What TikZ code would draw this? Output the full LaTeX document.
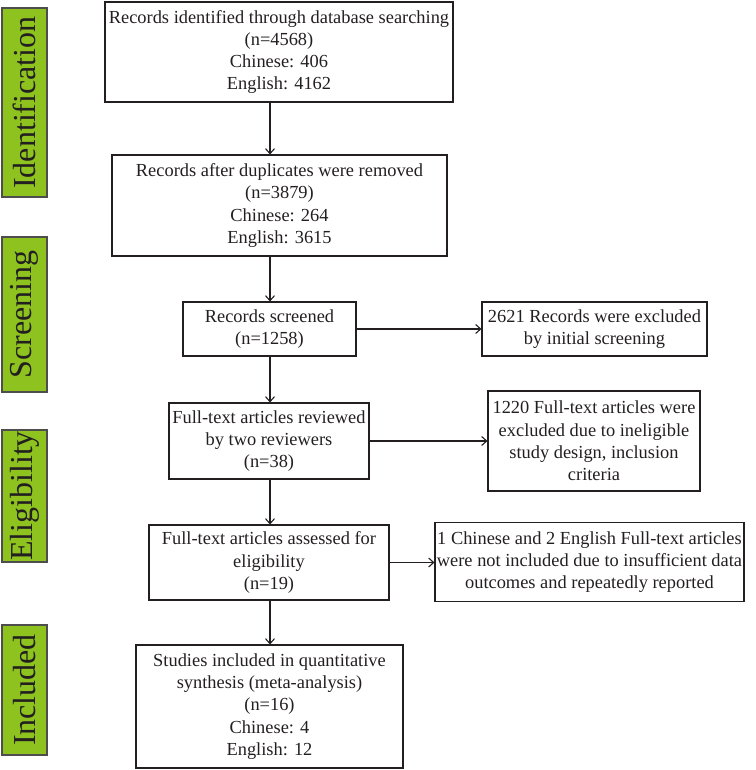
\documentclass[tikz,border=0pt]{standalone}
\usepackage{fontspec}
\setmainfont{Liberation Serif}
\usetikzlibrary{arrows.meta}
\definecolor{lab}{RGB}{141,194,31}
\definecolor{ink}{RGB}{35,31,32}
\begin{document}
\begin{tikzpicture}[x=1pt,y=-1pt,
  box/.style={draw=ink,line width=1.1pt,text=ink,align=center,inner sep=0pt,
    font=\fontsize{18.4}{22.3}\selectfont},
  stage/.style={draw=ink!80,line width=1.1pt,fill=lab,text=ink,inner sep=0pt,
    rotate=90,font=\fontsize{32}{34}\selectfont},
  arr/.style={draw=ink,line width=1.1pt,-{Straight Barb[length=5pt,width=9pt]}}]
\useasboundingbox (0,0) rectangle (755,770);
% stage labels
\node[stage,minimum width=189pt,minimum height=45pt] (s1) at (24.5,102.5) {Identification};
\node[stage,minimum width=155pt,minimum height=45pt] (s2) at (24.5,314.5) {Screening};
\node[stage,minimum width=132pt,minimum height=45pt] (s3) at (24.5,496) {Eligibility};
\node[stage,minimum width=130pt,minimum height=45pt] (s4) at (24.5,690) {Included};
% main boxes
\node[box,minimum width=348pt,minimum height=100pt] (b1) at (279,52)
  {Records identified through database searching\\(n=4568)\\Chinese: 406\\English: 4162};
\node[box,minimum width=335pt,minimum height=101pt] (b2) at (279.5,205.5)
  {Records after duplicates were removed\\(n=3879)\\Chinese: 264\\English: 3615};
\node[box,minimum width=173pt,minimum height=54pt] (b3) at (269.5,329)
  {Records screened\\(n=1258)};
\node[box,minimum width=200pt,minimum height=76pt] (b4) at (269,441)
  {Full-text articles reviewed\\by two reviewers\\(n=38)};
\node[box,minimum width=240pt,minimum height=75pt] (b5) at (269,562.5)
  {Full-text articles assessed for\\eligibility\\(n=19)};
\node[box,minimum width=267pt,minimum height=123pt] (b6) at (269.5,706.5)
  {Studies included in quantitative\\synthesis (meta-analysis)\\(n=16)\\Chinese: 4\\English: 12};
% side boxes
\node[box,minimum width=225pt,minimum height=54pt] (e1) at (594.5,329)
  {2621 Records were excluded\\by initial screening};
\node[box,minimum width=212pt,minimum height=100pt] (e2) at (594,441)
  {1220 Full-text articles were\\excluded due to ineligible\\study design, inclusion\\criteria};
\node[box,minimum width=309pt,minimum height=79pt] (e3) at (589.5,562)
  {1 Chinese and 2 English Full-text articles\\were not included due to insufficient data\\outcomes and repeatedly reported};
% connectors
\coordinate (col) at (270,0);
\draw[arr] (b1.south -| col) -- (b2.north -| col);
\draw[arr] (b2.south -| col) -- (b3.north -| col);
\draw[arr] (b3.south -| col) -- (b4.north -| col);
\draw[arr] (b4.south -| col) -- (b5.north -| col);
\draw[arr] (b5.south -| col) -- (b6.north -| col);
\draw[arr] (b3.east) -- (b3.east -| e1.west);
\draw[arr] (b4.east) -- (b4.east -| e2.west);
\draw[arr] (b5.east) -- (b5.east -| e3.west);
\end{tikzpicture}
\end{document}
